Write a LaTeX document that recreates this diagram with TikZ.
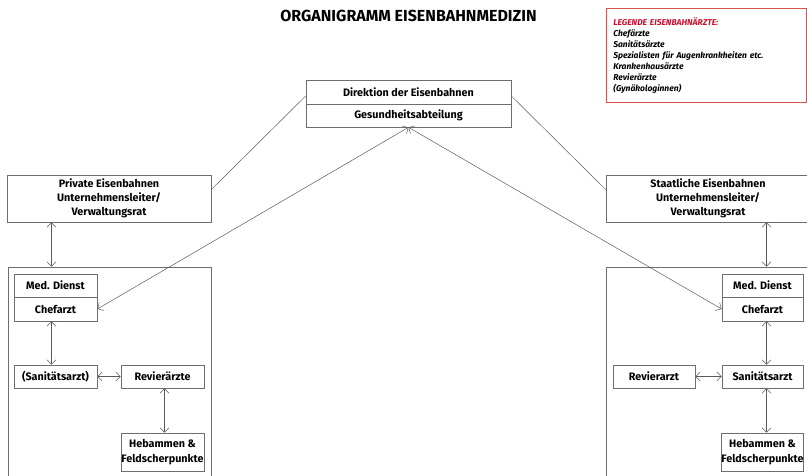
\documentclass[tikz,border=0pt]{standalone}
\usepackage{fontspec}
\setmainfont{Fira Sans}
\usetikzlibrary{arrows.meta}
\definecolor{boxgray}{HTML}{6E6E6E}
\definecolor{linegray}{HTML}{5A5A5A}
\definecolor{legendred}{HTML}{D9534F}
\definecolor{titlered}{HTML}{C8102E}

\begin{document}
\begin{tikzpicture}[x=1pt, y=-1pt,
    box/.style={rectangle, draw=boxgray, line width=0.7pt, inner sep=0pt, align=center, font=\bfseries\fontsize{10.8}{14.3}\selectfont},
    unit/.style={rectangle, draw=boxgray, line width=0.7pt, inner sep=0pt},
    link/.style={draw=linegray, line width=0.5pt},
    both/.style={link, {Straight Barb[length=4.5pt,width=9pt]}-{Straight Barb[length=4.5pt,width=9pt]}}]
    \useasboundingbox (0,0) rectangle (807,476);

    \node (titel) at (408.5,16) [font=\bfseries\fontsize{16}{18}\selectfont] {ORGANIGRAMM EISENBAHNMEDIZIN};
    \node (legende) at (606,8) [anchor=north west, draw=legendred, line width=0.7pt, text width=186pt, inner xsep=7pt, minimum height=94pt, align=left, font=\bfseries\itshape\fontsize{8.5}{10.9}\selectfont]
        {{\color{titlered}LEGENDE EISENBAHNÄRZTE:}\\ Chefärzte\\ Sanitätsärzte\\ Spezialisten für Augenkrankheiten etc.\\ Krankenhausärzte\\ Revierärzte\\ (Gynäkologinnen)};

    % Direktion
    \node (direktion)  at (408.5,92)    [box, minimum width=205pt, minimum height=24pt] {Direktion der Eisenbahnen};
    \node (gesundheit) at (408.5,115.5) [box, minimum width=205pt, minimum height=23pt] {Gesundheitsabteilung};

    % Bahnen
    \node (privat)    at (109,198.5) [box, minimum width=204pt, minimum height=47pt] {Private Eisenbahnen\\ Unternehmensleiter/\\ Verwaltungsrat};
    \node (staatlich) at (708,198.5) [box, minimum width=204pt, minimum height=47pt] {Staatliche Eisenbahnen\\ Unternehmensleiter/\\ Verwaltungsrat};

    % private Seite
    \node (einheitL)   at (109.5,378.5) [unit, minimum width=203pt, minimum height=223pt] {};
    \node (dienstL)    at (55.5,285.5)  [box, minimum width=83pt, minimum height=23pt] {Med. Dienst};
    \node (chefarztL)  at (55.5,309)    [box, minimum width=83pt, minimum height=24pt] {Chefarzt};
    \node (sanL)       at (55.5,376.5)  [box, minimum width=83pt, minimum height=23pt] {(Sanitätsarzt)};
    \node (revL)       at (162.5,376.5) [box, minimum width=83pt, minimum height=23pt] {Revierärzte};
    \node (hebL)       at (162.5,452)   [box, minimum width=83pt, minimum height=38pt] {Hebammen \&\\ Feldscherpunkte};

    % staatliche Seite
    \node (einheitR)   at (708,378.5)   [unit, minimum width=204pt, minimum height=223pt] {};
    \node (dienstR)    at (762.5,285.5) [box, minimum width=81pt, minimum height=23pt] {Med. Dienst};
    \node (chefarztR)  at (762.5,309)   [box, minimum width=81pt, minimum height=24pt] {Chefarzt};
    \node (sanR)       at (762.5,376.5) [box, minimum width=81pt, minimum height=23pt] {Sanitätsarzt};
    \node (revR)       at (654,376.5)   [box, minimum width=82pt, minimum height=23pt] {Revierarzt};
    \node (hebR)       at (762.5,452)   [box, minimum width=81pt, minimum height=38pt] {Hebammen \&\\ Feldscherpunkte};

    \draw[link] ([yshift=-4pt]direktion.west) -- ([yshift=9pt]privat.east);
    \draw[link] ([yshift=-4pt]direktion.east) -- ([yshift=9pt]staatlich.west);
    \draw[both] (gesundheit.south) -- (chefarztL.east);
    \draw[both] (gesundheit.south) -- (chefarztR.west);

    \draw[both] ([xshift=-4pt]privat.south -| chefarztL.north) -- ([xshift=-4pt]chefarztL.north |- einheitL.north);
    \draw[both] ([xshift=-4pt]chefarztL.south) -- ([xshift=-4pt]sanL.north);
    \draw[both] (sanL) -- (revL);
    \draw[both] ([xshift=2pt]revL.south) -- ([xshift=2pt]hebL.north);

    \draw[both] ([xshift=4pt]staatlich.south -| chefarztR.north) -- ([xshift=4pt]chefarztR.north |- einheitR.north);
    \draw[both] ([xshift=4pt]chefarztR.south) -- ([xshift=4pt]sanR.north);
    \draw[both] (revR) -- (sanR);
    \draw[both] ([xshift=4pt]sanR.south) -- ([xshift=4pt]hebR.north);
\end{tikzpicture}
\end{document}
